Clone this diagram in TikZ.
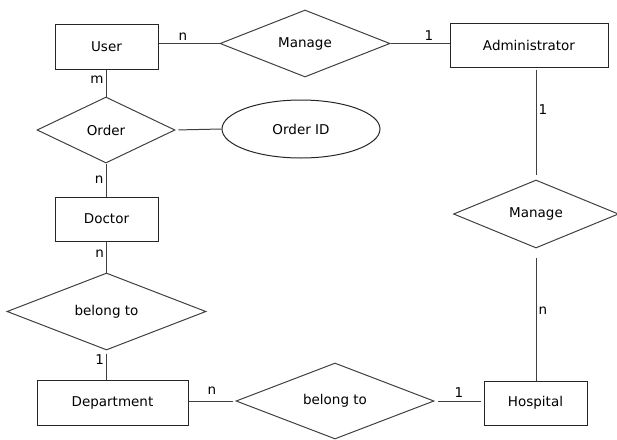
\documentclass[tikz,border=0pt]{standalone}
\usepackage{fontspec}
\setmainfont{DejaVu Sans}
\usetikzlibrary{shapes.geometric,positioning}

\begin{document}
\begin{tikzpicture}[
    x=1pt,y=-1pt,
    entity/.style={rectangle,draw=black!85,line width=1pt,inner sep=0pt,font=\fontsize{13.5}{16}\selectfont},
    relation/.style={diamond,draw=black!75,line width=1pt,inner sep=0pt,aspect=2.5,font=\fontsize{13.5}{16}\selectfont},
    attribute/.style={ellipse,draw=black!85,line width=1pt,inner sep=0pt,font=\fontsize{13.5}{16}\selectfont},
    link/.style={draw=black!75,line width=1pt},
    card/.style={font=\fontsize{13.5}{16}\selectfont,inner sep=1pt}
    ]
    \useasboundingbox (0,0) rectangle (617,439);

    % entities
    \node[entity,minimum width=103pt,minimum height=45pt] (user) at (106.5,46.5) {User};
    \node[entity,minimum width=158pt,minimum height=44pt] (admin) at (529,45) {Administrator};
    \node[entity,minimum width=103pt,minimum height=44pt] (doctor) at (106.5,219) {Doctor};
    \node[entity,minimum width=151pt,minimum height=45pt] (dept) at (112.5,402.5) {Department};
    \node[entity,minimum width=103pt,minimum height=44pt] (hospital) at (535.5,403) {Hospital};

    % relations
    \node[relation,minimum width=170pt,minimum height=67pt] (manage1) at (305,43.5) {Manage};
    \node[relation,minimum width=138pt,minimum height=66pt] (order) at (106,130) {Order};
    \node[relation,minimum width=199pt,minimum height=77pt] (belong1) at (106.5,311.5) {belong to};
    \node[relation,minimum width=198pt,minimum height=76pt] (belong2) at (335,401) {belong to};
    \node[relation,minimum width=165pt,minimum height=68pt] (manage2) at (536,214) {Manage};

    % attribute
    \node[attribute,minimum width=158pt,minimum height=58pt] (orderid) at (301,129) {Order ID};

    % connectors
    \draw[link] (manage1.west -| user.east) -- node[card,pos=0.4,above=2pt] {n} (manage1.west);
    \draw[link] (manage1.east) -- node[card,pos=0.65,above=2pt] {1} (manage1.east -| admin.west);
    \draw[link] (order.north |- user.south) -- node[card,pos=0.38,left=1pt] {m} (order.north);
    \draw[link,shorten <=3pt] (order.east) -- (orderid.west);
    \draw[link] (order.south) -- node[card,pos=0.5,left=1pt] {n} (order.south |- doctor.north);
    \draw[link] (belong1.north |- doctor.south) -- node[card,pos=0.4,left=1pt] {n} (belong1.north);
    \draw[link,shorten <=3pt] (belong1.south) -- node[card,pos=0.3,left=1pt] {1} (belong1.south |- dept.north);
    \draw[link,shorten >=3pt] (belong2.west -| dept.east) -- node[card,pos=0.5,above=5pt] {n} (belong2.west);
    \draw[link,shorten <=3pt,shorten >=3pt] (belong2.east) -- node[card,pos=0.5,above=2pt] {1} (belong2.east -| hospital.west);
    \draw[link,shorten <=2pt,shorten >=5pt] (manage2.north |- admin.south) -- node[card,pos=0.38,right=1pt] {1} (manage2.north);
    \draw[link,shorten <=9pt] (manage2.south) -- node[card,pos=0.47,right=1pt] {n} (manage2.south |- hospital.north);

\end{tikzpicture}
\end{document}
